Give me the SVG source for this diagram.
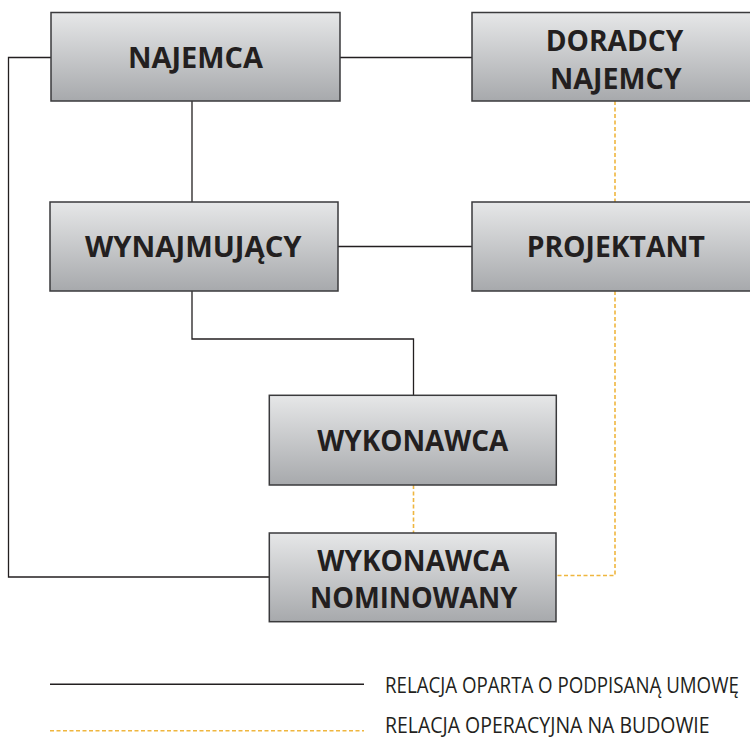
<svg xmlns="http://www.w3.org/2000/svg" width="750" height="739" viewBox="0 0 750 739">
  <defs>
    <linearGradient id="boxFill" x1="0" y1="0" x2="0" y2="1">
      <stop offset="0" stop-color="#e6e7e8"/>
      <stop offset="1" stop-color="#a7a9ac"/>
    </linearGradient>
  </defs>
  <style>
    .box { fill: url(#boxFill); stroke: #3a3a3c; stroke-width: 1.5; }
    .label { font-family: "Open Sans", "Liberation Sans", sans-serif; font-weight: 700; font-size: 29px; fill: #231f20; text-anchor: middle; }
    .contract { fill: none; stroke: #231f20; stroke-width: 1.3; }
    .site { fill: none; stroke: #efb63f; stroke-width: 1.6; stroke-dasharray: 4 2.5; }
    .legend { font-family: "Open Sans", "Liberation Sans", sans-serif; font-size: 21.5px; fill: #231f20; }
  </style>

  <rect width="750" height="739" fill="#ffffff"/>

  <!-- connectors -->
  <g id="connectors">
    <!-- signed-contract relations -->
    <path class="contract" d="M51 57.5 H8.5 V430"/>
    <path class="contract" d="M8.5 430 V577 H269" stroke-width="1.6"/>
    <path class="contract" d="M340 57.5 H472"/>
    <path class="contract" d="M192 101 V202"/>
    <path class="contract" d="M338 246.5 H472"/>
    <path class="contract" d="M192 291 V339 H413.5 V395"/>
    <!-- on-site operational relations -->
    <path class="site" d="M615 101 V202"/>
    <path class="site" d="M615 291 V575.5 H556"/>
    <path class="site" d="M413.5 485 V533"/>
  </g>

  <!-- nodes -->
  <g id="najemca">
    <rect class="box" x="51" y="12.5" width="289" height="88.5"/>
    <text class="label" x="195.5" y="67.7" textLength="135" lengthAdjust="spacingAndGlyphs">NAJEMCA</text>
  </g>

  <g id="doradcy-najemcy">
    <rect class="box" x="472" y="12.5" width="289" height="88.5"/>
    <text class="label" x="614.5" y="51" textLength="137.7" lengthAdjust="spacingAndGlyphs">DORADCY</text>
    <text class="label" x="615.8" y="89.3" textLength="131.7" lengthAdjust="spacingAndGlyphs">NAJEMCY</text>
  </g>

  <g id="wynajmujacy">
    <rect class="box" x="50" y="202" width="288" height="89"/>
    <text class="label" x="193.3" y="256.7" textLength="216.7" lengthAdjust="spacingAndGlyphs">WYNAJMUJĄCY</text>
  </g>

  <g id="projektant">
    <rect class="box" x="472" y="202" width="289" height="89"/>
    <text class="label" x="615.8" y="256.7" textLength="178.3" lengthAdjust="spacingAndGlyphs">PROJEKTANT</text>
  </g>

  <g id="wykonawca">
    <rect class="box" x="269.3" y="395.3" width="287" height="89.7"/>
    <text class="label" x="412.8" y="451" textLength="191" lengthAdjust="spacingAndGlyphs">WYKONAWCA</text>
  </g>

  <g id="wykonawca-nominowany">
    <rect class="box" x="269.3" y="533" width="286.7" height="88.7"/>
    <text class="label" x="413.3" y="570.7" textLength="192" lengthAdjust="spacingAndGlyphs">WYKONAWCA</text>
    <text class="label" x="413.7" y="608.3" textLength="207.3" lengthAdjust="spacingAndGlyphs">NOMINOWANY</text>
  </g>

  <!-- legend: condensed captions -->
  <g id="legend">
    <line x1="50" y1="684.3" x2="364" y2="684.3" stroke="#231f20" stroke-width="1.5"/>
    <text class="legend" transform="translate(385 693) scale(0.87 1)">RELACJA OPARTA O PODPISANĄ UMOWĘ</text>
    <line x1="50" y1="730.7" x2="364" y2="730.7" stroke="#efb63f" stroke-width="1.6" stroke-dasharray="4 2.5"/>
    <text class="legend" transform="translate(385 733.3) scale(0.905 1)">RELACJA OPERACYJNA NA BUDOWIE</text>
  </g>
</svg>
